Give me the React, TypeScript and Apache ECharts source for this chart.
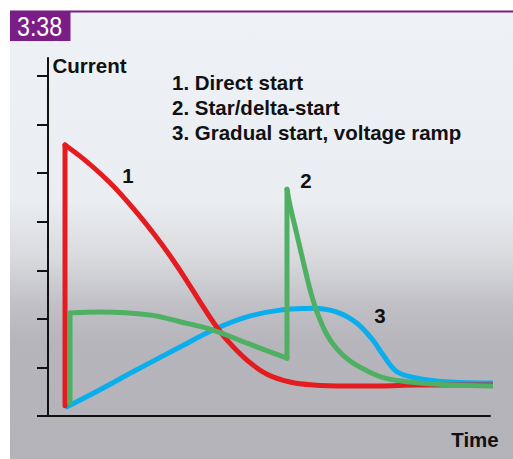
import React, { useEffect, useRef } from 'react';
import * as echarts from 'echarts';

const FONT = '"Liberation Sans", Arial, Helvetica, sans-serif';

const figureLabel = '3:38';
const yAxisName = 'Current';
const xAxisName = 'Time';
const legendLines = ['1. Direct start', '2. Star/delta-start', '3. Gradual start, voltage ramp'];
const curveLabels = ['1', '2', '3'];
const yTicks = [0, 1, 2, 3, 4, 5, 6, 7];

// [time, current]
const directStart: [number, number][] = [
  [3.85, 0.21], [3.85, 5.58], [7.24, 5.35], [10.63, 5.09], [14.03, 4.8], [17.42, 4.47],
  [20.81, 4.11], [24.21, 3.72], [27.6, 3.3], [31.0, 2.84], [34.39, 2.35], [37.56, 1.91],
  [40.72, 1.54], [45.02, 1.15], [49.55, 0.86], [54.75, 0.7], [59.95, 0.64], [67.65, 0.62],
  [75.11, 0.62], [83.48, 0.64], [100.7, 0.64],
];
const starDelta: [number, number][] = [
  [4.98, 0.27], [4.98, 2.12], [11.76, 2.14], [23.08, 2.08], [29.86, 1.94], [37.33, 1.77],
  [45.02, 1.5], [54.07, 1.19], [54.07, 4.67], [54.75, 4.34], [56.33, 3.73], [57.92, 3.11],
  [59.5, 2.53], [61.09, 2.08], [62.9, 1.71], [65.16, 1.4], [68.33, 1.13], [72.17, 0.93],
  [76.24, 0.78], [81.9, 0.7], [90.95, 0.64], [100.7, 0.62],
];
const gradualStart: [number, number][] = [
  [4.3, 0.19], [11.76, 0.54], [19.23, 0.91], [29.86, 1.42], [37.33, 1.77], [45.02, 2.04],
  [52.49, 2.18], [59.95, 2.22], [65.38, 2.14], [69.91, 1.91], [73.53, 1.56], [75.79, 1.26],
  [78.96, 0.91], [83.48, 0.78], [90.95, 0.7], [100.7, 0.68],
];

const RED = '#e41c1f';
const GREEN = '#4fb063';
const BLUE = '#0aaeec';

function segments(pts: [number, number][]) {
  const segs: { pts: [number, number][]; smooth: boolean }[] = [];
  let cur: [number, number][] = [pts[0]];
  for (let i = 1; i < pts.length; i++) {
    const p = pts[i];
    const q = pts[i - 1];
    if (p[0] === q[0]) {
      if (cur.length > 1) segs.push({ pts: cur, smooth: true });
      segs.push({ pts: [q, p], smooth: false });
      cur = [p];
    } else cur.push(p);
  }
  if (cur.length > 1) segs.push({ pts: cur, smooth: true });
  return segs;
}

function seriesFor(pts: [number, number][], color: string, z: number) {
  return segments(pts).map((s) => ({
    type: 'line',
    data: s.pts,
    smooth: s.smooth ? 0.35 : false,
    symbol: 'none',
    showSymbol: false,
    clip: false,
    z,
    silent: true,
    lineStyle: { color, width: 5, cap: 'round', join: 'round' },
  }));
}

export default function App() {
  const ref = useRef<HTMLDivElement>(null);
  useEffect(() => {
    if (!ref.current) return;
    const chart = echarts.init(ref.current, null, { renderer: 'svg' });
    const boldText = (text: string, x: number, y: number, align = 'left') => ({
      type: 'text',
      x,
      y,
      z: 50,
      style: {
        text,
        fill: '#111',
        font: `bold 20.5px ${FONT}`,
        textAlign: align,
        textVerticalAlign: 'middle',
      },
    });
    chart.setOption({
      animation: false,
      grid: { left: 48, right: 23, top: 58, bottom: 43, outerBoundsMode: 'none' },
      xAxis: {
        type: 'value',
        min: 0,
        max: 100,
        axisLine: { show: true, lineStyle: { color: '#111', width: 2 } },
        axisTick: { show: false },
        axisLabel: { show: false },
        splitLine: { show: false },
      },
      yAxis: {
        type: 'value',
        min: 0,
        max: 7.37,
        interval: 1,
        axisLine: { show: true, lineStyle: { color: '#111', width: 2 } },
        axisTick: { show: true, length: 11, customValues: yTicks, lineStyle: { color: '#111', width: 2 } },
        axisLabel: { show: false },
        splitLine: { show: false },
      },
      series: [
        ...seriesFor(gradualStart, BLUE, 2),
        ...seriesFor(directStart, RED, 3),
        ...seriesFor(starDelta, GREEN, 4),
      ],
      graphic: [
        {
          type: 'rect',
          z: -100,
          shape: { x: 10, y: 11, width: 503, height: 448 },
          style: {
            fill: new echarts.graphic.LinearGradient(0, 0, 0, 1, [
              { offset: 0, color: '#eef1f6' },
              { offset: 0.42, color: '#eaedf2' },
              { offset: 0.55, color: '#d9dade' },
              { offset: 0.66, color: '#bfbfc5' },
              { offset: 0.74, color: '#b6b5bb' },
              { offset: 1, color: '#b4b3b9' },
            ]),
          },
        },
        { type: 'rect', z: 40, shape: { x: 10, y: 10.5, width: 503, height: 2 }, style: { fill: '#7a1d86' } },
        { type: 'rect', z: 40, shape: { x: 10, y: 11, width: 60.5, height: 30 }, style: { fill: '#7a1d86' } },
        {
          type: 'text',
          x: 17,
          y: 26,
          z: 50,
          scaleX: 0.83,
          style: { text: figureLabel, fill: '#fff', font: `28px ${FONT}`, textAlign: 'left', textVerticalAlign: 'middle' },
        },
        boldText(yAxisName, 52.5, 65),
        boldText(xAxisName, 475, 439, 'center'),
        boldText(legendLines[0], 172, 82.5),
        boldText(legendLines[1], 172, 107.5),
        boldText(legendLines[2], 172, 132.5),
        boldText(curveLabels[0], 128, 175, 'center'),
        boldText(curveLabels[1], 306, 180, 'center'),
        boldText(curveLabels[2], 380, 315, 'center'),
      ],
    });
    return () => chart.dispose();
  }, []);
  return <div ref={ref} style={{ position: 'absolute', left: 0, top: 0, width: 513, height: 459 }} />;
}
